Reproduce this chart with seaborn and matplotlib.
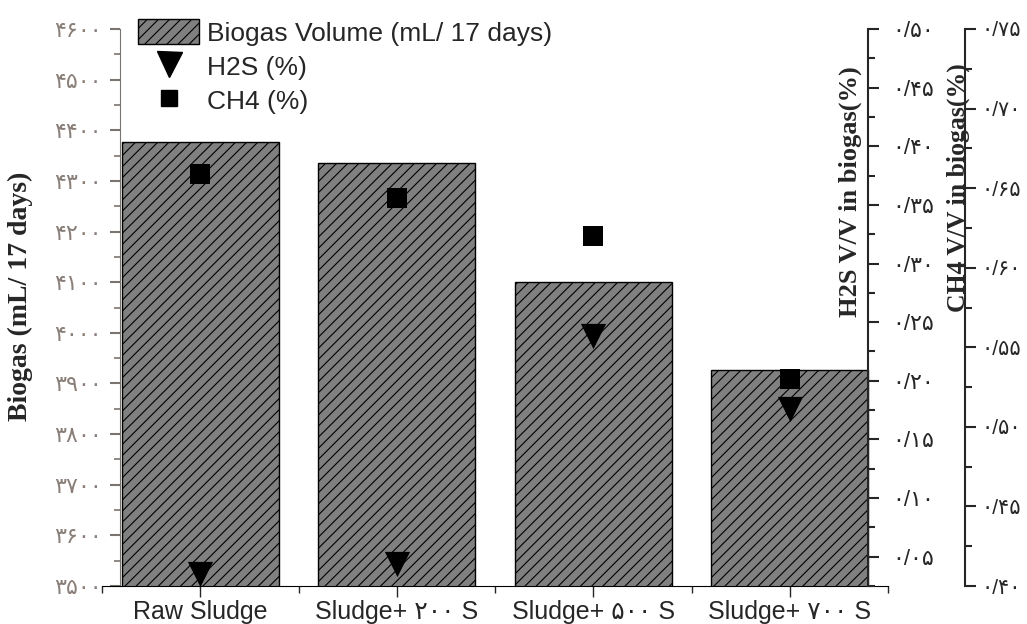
import matplotlib
matplotlib.use("Agg")
import matplotlib.pyplot as plt
import numpy as np
import seaborn as sns
from matplotlib.lines import Line2D
from matplotlib.patches import Patch
from matplotlib.ticker import FuncFormatter, MultipleLocator

categories = ["Raw Sludge", "Sludge+ ۲۰۰ S", "Sludge+ ۵۰۰ S", "Sludge+ ۷۰۰ S"]
biogas_ml = [4377, 4335, 4100, 3927]
h2s_pct = [0.035, 0.044, 0.238, 0.176]
ch4_pct = [0.659, 0.644, 0.620, 0.530]

sns.set_style("ticks")
plt.rcParams["font.family"] = ["Liberation Sans", "DejaVu Sans"]
plt.rcParams["hatch.linewidth"] = 0.8

FA = str.maketrans("0123456789", "۰۱۲۳۴۵۶۷۸۹")


def fa_int(v, pos=None):
    return f"{v:.0f}".translate(FA)


def fa_dec(v, pos=None):
    return f"{v:.2f}".replace(".", "/").translate(FA)


fig = plt.figure(figsize=(10.27, 6.24), dpi=100)
ax = fig.add_axes([102 / 1027, 38 / 624, 786 / 1027, 557 / 624])
pos = np.arange(len(categories))

# bars
sns.barplot(x=categories, y=biogas_ml, color="#808080", saturation=1,
            edgecolor="black", linewidth=1, hatch="///", width=0.8, ax=ax)
ax.set_xlim(-0.5, 3.5)
ax.set_ylim(3500, 4600)
ax.set_ylabel("")
ax.set_xlabel("")

grey = "#7a7470"
ax.spines["top"].set_visible(False)
ax.spines["right"].set_visible(False)
ax.spines["left"].set_position(("data", -0.41))
ax.spines["left"].set_color(grey)
ax.spines["bottom"].set_color("black")
ax.yaxis.set_major_locator(MultipleLocator(100))
ax.yaxis.set_minor_locator(MultipleLocator(50))
ax.yaxis.set_major_formatter(FuncFormatter(fa_int))
ax.tick_params(axis="y", which="major", length=7, width=1.5, colors=grey,
               labelsize=16, labelcolor="#8a7f78", pad=6)
ax.tick_params(axis="y", which="minor", length=4, width=1.2, colors=grey)
ax.set_xticks(pos)
ax.set_xticklabels(categories)
ax.xaxis.set_minor_locator(MultipleLocator(0.5))
ax.tick_params(axis="x", which="major", length=8, width=1, labelsize=18, pad=2)
ax.tick_params(axis="x", which="minor", length=5, width=1)

# H2S axis
ax2 = ax.twinx()
sns.scatterplot(x=pos, y=h2s_pct, marker="v", s=330, color="black",
                edgecolor="black", linewidth=0, ax=ax2, legend=False, zorder=5)
ax2.set_ylim(0.025, 0.50)
ax2.set_xlim(-0.5, 3.5)
for s in ["top", "left", "bottom"]:
    ax2.spines[s].set_visible(False)
ax2.spines["right"].set_position(("data", 3.4))
ax2.spines["right"].set_linewidth(1.5)
ax2.yaxis.set_major_locator(MultipleLocator(0.05))
ax2.yaxis.set_minor_locator(MultipleLocator(0.025))
ax2.yaxis.set_major_formatter(FuncFormatter(fa_dec))
ax2.tick_params(axis="y", which="major", length=8, width=1.5, labelsize=16, pad=9)
ax2.tick_params(axis="y", which="minor", length=5, width=1.5)
ax2.set_ylabel("")

# CH4 axis
ax3 = ax.twinx()
sns.scatterplot(x=pos, y=ch4_pct, marker="s", s=190, color="black",
                edgecolor="black", linewidth=0, ax=ax3, legend=False, zorder=5)
ax3.set_ylim(0.40, 0.75)
ax3.set_xlim(-0.5, 3.5)
for s in ["top", "left", "bottom"]:
    ax3.spines[s].set_visible(False)
ax3.spines["right"].set_position(("axes", 1.098))
ax3.spines["right"].set_linewidth(1.5)
ax3.yaxis.set_major_locator(MultipleLocator(0.05))
ax3.yaxis.set_minor_locator(MultipleLocator(0.025))
ax3.yaxis.set_major_formatter(FuncFormatter(fa_dec))
ax3.tick_params(axis="y", which="major", length=8, width=1.5, labelsize=15, pad=4)
ax3.tick_params(axis="y", which="minor", length=5, width=1.5)
ax3.set_ylabel("")

serif = ["Liberation Serif", "DejaVu Serif"]
fig.text(20 / 1027, 1 - 296 / 624, "Biogas (mL/ 17 days)", rotation=90,
         ha="center", va="center", fontsize=20, fontweight="bold", family=serif)
fig.text(850 / 1027, 1 - 192 / 624, "H2S V/V in biogas(%)", rotation=90,
         ha="center", va="center", fontsize=19, fontweight="bold", family=serif)
fig.text(958 / 1027, 1 - 188 / 624, "CH4 V/V in biogas(%)", rotation=90,
         ha="center", va="center", fontsize=18.5, fontweight="bold", family=serif)

handles = [
    Patch(facecolor="#808080", edgecolor="black", hatch="///", linewidth=1),
    Line2D([], [], marker="v", color="black", linestyle="none", markersize=18),
    Line2D([], [], marker="s", color="black", linestyle="none", markersize=12),
]
labels = ["Biogas Volume (mL/ 17 days)", "H2S (%)", "CH4 (%)"]
fig.legend(handles, labels, loc="upper left", bbox_to_anchor=(120 / 1027, 1 - 1 / 624),
           frameon=False, fontsize=19, handlelength=2.3, handleheight=1.05,
           labelspacing=0.3, handletextpad=0.3, borderpad=0.2)

fig.savefig("out.png", dpi=100)
